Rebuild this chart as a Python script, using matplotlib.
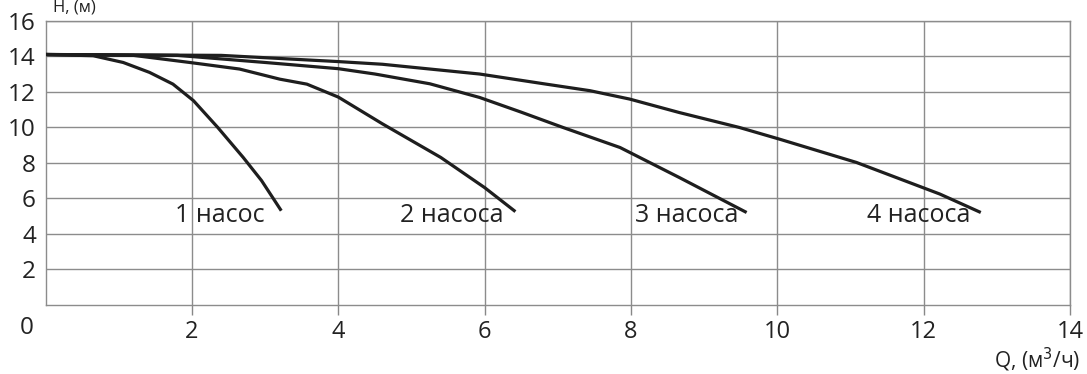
import matplotlib.pyplot as plt

# pump curves H(Q)
q1 = [0, 0.65, 1.06, 1.42, 1.74, 2.02, 2.35, 2.7, 2.95, 3.22]
h1 = [14.1, 14.03, 13.65, 13.09, 12.43, 11.5, 10.0, 8.3, 7.0, 5.3]

q2 = [0, 1.2, 1.97, 2.65, 3.2, 3.57, 4.0, 4.6, 5.4, 6.0, 6.42]
h2 = [14.1, 14.05, 13.65, 13.28, 12.71, 12.43, 11.7, 10.2, 8.3, 6.6, 5.25]

q3 = [0, 1.8, 3.0, 4.0, 4.5, 5.25, 5.93, 6.5, 7.07, 7.85, 8.66, 9.58]
h3 = [14.1, 14.05, 13.65, 13.3, 13.0, 12.45, 11.68, 10.85, 9.99, 8.86, 7.17, 5.2]

q4 = [0, 2.4, 4.0, 4.6, 5.93, 6.84, 7.44, 7.98, 8.66, 9.48, 10.03, 11.08, 12.22, 12.78]
h4 = [14.1, 14.05, 13.7, 13.55, 13.0, 12.43, 12.06, 11.59, 10.83, 9.99, 9.33, 8.02, 6.24, 5.2]

labels = ['1 насос', '2 насоса', '3 насоса', '4 насоса']
label_x = [1.77, 4.84, 8.06, 11.22]
label_y = 5.05

xticks = [2, 4, 6, 8, 10, 12, 14]
yticks = [2, 4, 6, 8, 10, 12, 14, 16]

plt.rcParams['font.family'] = ['Open Sans', 'DejaVu Sans']

fig = plt.figure(figsize=(10.87, 3.74), dpi=100)
ax = fig.add_axes([0.042, 0.185, 0.9424, 0.7595])

for q, h in [(q1, h1), (q2, h2), (q3, h3), (q4, h4)]:
    ax.plot(q, h, color='#1e1e1e', linewidth=2.3, solid_capstyle='butt', zorder=3)

for txt, x in zip(labels, label_x):
    ax.text(x, label_y, txt, fontsize=18, color='#222222', ha='left', va='center', zorder=4)

ax.set_xlim(0, 14)
ax.set_ylim(0, 16)
ax.set_xticks(xticks)
ax.set_yticks(yticks)
ax.tick_params(axis='x', length=7, width=1, color='#888888', labelsize=17, pad=4, direction='out')
ax.tick_params(axis='y', length=0, labelsize=17.5, pad=7)
for lab in ax.get_xticklabels() + ax.get_yticklabels():
    lab.set_color('#222222')
ax.grid(True, color='#8c8c8c', linewidth=1.0)
for s in ax.spines.values():
    s.set_color('#8c8c8c')
    s.set_linewidth(1.0)

# shared "0" at the bottom left corner
fig.text(27 / 1087, 1 - 328 / 374, '0', fontsize=17.5, color='#222222', ha='center', va='center')
# axis titles
fig.text(1080 / 1087, 1 - 360 / 374, 'Q, (м$^3$/ч)', fontsize=15, color='#222222', ha='right', va='center')
fig.text(53 / 1087, 1.0, 'Н, (м)', fontsize=12, color='#222222', ha='left', va='top')

fig.savefig('out.png', dpi=100)
